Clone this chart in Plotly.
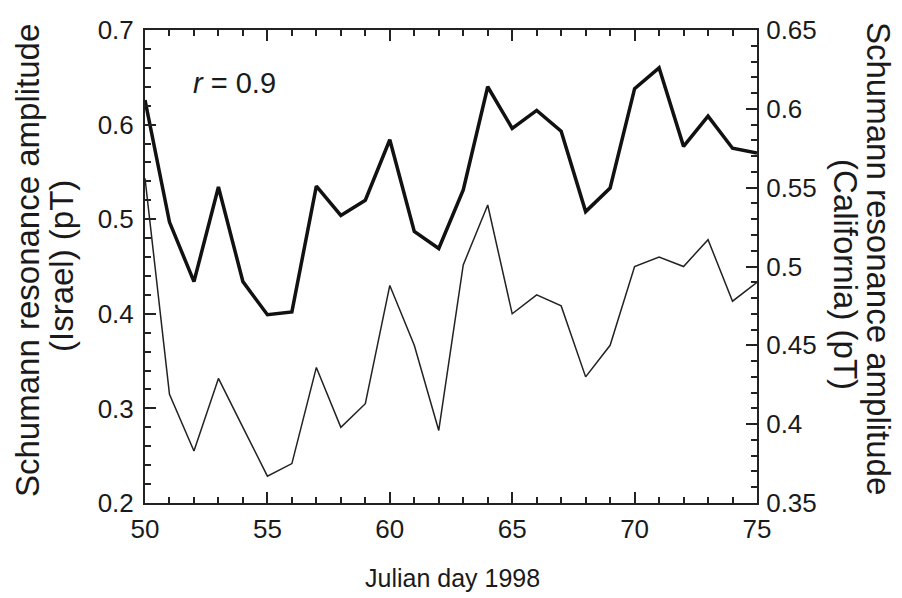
import plotly.graph_objects as go

days = list(range(50, 76))
israel = [0.626, 0.497, 0.434, 0.534, 0.434, 0.399, 0.402, 0.535, 0.504, 0.520,
          0.584, 0.487, 0.469, 0.531, 0.640, 0.596, 0.615, 0.593, 0.508, 0.533,
          0.638, 0.660, 0.577, 0.609, 0.575, 0.570]
california = [0.556, 0.419, 0.383, 0.429, 0.398, 0.367, 0.375, 0.436, 0.398, 0.413,
              0.488, 0.450, 0.396, 0.501, 0.539, 0.470, 0.482, 0.475, 0.430, 0.450,
              0.500, 0.506, 0.500, 0.517, 0.478, 0.490]

x_ticks = [50, 55, 60, 65, 70, 75]
y1_ticks = [0.2, 0.3, 0.4, 0.5, 0.6, 0.7]
y2_ticks = [0.35, 0.4, 0.45, 0.5, 0.55, 0.6, 0.65]

FAM = "Liberation Sans, Arial, Helvetica"
INK = "#1a1a1a"
YTICKFONT = dict(family=FAM, size=26, color=INK)
XTICKFONT = dict(family=FAM, size=26, color=INK)
TITLEFONT = dict(family=FAM, size=33, color=INK)

fig = go.Figure()
fig.add_trace(go.Scatter(x=days, y=israel, mode="lines",
                         line=dict(color="#111111", width=3.5), yaxis="y"))
fig.add_trace(go.Scatter(x=days, y=california, mode="lines",
                         line=dict(color="#222222", width=1.5), yaxis="y2"))

tick_common = dict(ticks="inside", ticklen=11, tickwidth=2, tickcolor="#222",
                   showline=True, linecolor="#222", linewidth=2,
                   showgrid=False, zeroline=False)

fig.update_layout(
    width=902, height=598,
    margin=dict(l=145, r=145, t=30, b=95),
    paper_bgcolor="white", plot_bgcolor="white",
    showlegend=False,
    xaxis=dict(range=[50, 75], tickvals=x_ticks, ticktext=[str(v) for v in x_ticks],
               mirror="ticks", tickfont=XTICKFONT, ticklabelstandoff=2,
               minor=dict(dtick=1, ticks="inside", ticklen=6, tickwidth=1.5, tickcolor="#222", showgrid=False),
               **tick_common),
    yaxis=dict(range=[0.2, 0.7], tickvals=y1_ticks, ticktext=[f"{v:g}" for v in y1_ticks],
               tickfont=YTICKFONT, ticklabelstandoff=4,
               minor=dict(dtick=0.02, ticks="inside", ticklen=6, tickwidth=1.5, tickcolor="#222", showgrid=False),
               **tick_common),
    yaxis2=dict(range=[0.35, 0.65], tickvals=y2_ticks, ticktext=[f"{v:g}" for v in y2_ticks],
                overlaying="y", side="right", tickfont=YTICKFONT, ticklabelstandoff=2,
                minor=dict(dtick=0.01, ticks="inside", ticklen=6, tickwidth=1.5, tickcolor="#222", showgrid=False),
                **tick_common),
    annotations=[
        dict(text="Schumann resonance amplitude", xref="paper", yref="paper",
             x=(27 - 145) / 612, y=1 - (261 - 30) / 473, xanchor="center", yanchor="middle",
             textangle=-90, showarrow=False, font=TITLEFONT),
        dict(text="(Israel) (pT)", xref="paper", yref="paper",
             x=(61 - 145) / 612, y=1 - (266 - 30) / 473, xanchor="center", yanchor="middle",
             textangle=-90, showarrow=False, font=TITLEFONT),
        dict(text="Schumann resonance amplitude", xref="paper", yref="paper",
             x=(879 - 145) / 612, y=1 - (258 - 30) / 473, xanchor="center", yanchor="middle",
             textangle=90, showarrow=False, font=TITLEFONT),
        dict(text="(California) (pT)", xref="paper", yref="paper",
             x=(846 - 145) / 612, y=1 - (274 - 30) / 473, xanchor="center", yanchor="middle",
             textangle=90, showarrow=False, font=TITLEFONT),
        dict(text="Julian day 1998", xref="paper", yref="paper",
             x=(452 - 145) / 612, y=1 - (578 - 30) / 473,
             xanchor="center", yanchor="middle", showarrow=False,
             font=dict(family=FAM, size=25, color=INK)),
        dict(text="<i>r</i> = 0.9", xref="paper", yref="paper",
             x=(191 - 145) / 612, y=1 - (83 - 30) / 473,
             xanchor="left", yanchor="middle", showarrow=False,
             font=dict(family=FAM, size=29, color=INK)),
    ],
)

fig.write_html("out.html")
